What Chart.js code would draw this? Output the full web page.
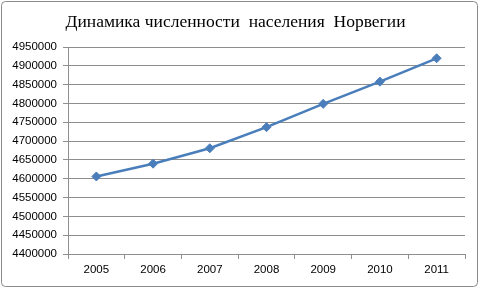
<!DOCTYPE html>
<html>
<head>
<meta charset="utf-8">
<script src="https://cdn.jsdelivr.net/npm/chart.js@4/dist/chart.umd.min.js"></script>
<style>
  html, body { margin: 0; padding: 0; background: #fff; }
  #wrap { width: 480px; height: 288px; }
</style>
</head>
<body>
<div id="wrap"><canvas id="chart" width="480" height="288"></canvas></div>
<script>
"use strict";

// Population of Norway
const years = ["2005", "2006", "2007", "2008", "2009", "2010", "2011"];
const population = [4606000, 4640000, 4681000, 4737000, 4799000, 4858000, 4920000];
const titleText = "Динамика численности  населения  Норвегии";
const yMin = 4400000;
const yMax = 4950000;
const yStep = 50000;

const GRID = "#8e8e8e";
const LINE = "#4a7ebb";

// outer frame, like the spreadsheet chart border
const framePlugin = {
  id: "frame",
  beforeDraw(chart) {
    const c = chart.ctx;
    c.save();
    c.fillStyle = "#fff";
    c.fillRect(0, 0, chart.width, chart.height);
    c.strokeStyle = "#8a8a8a";
    c.lineWidth = 1;
    c.beginPath();
    c.roundRect(1.5, 1.5, chart.width - 4, chart.height - 3, 4);
    c.stroke();
    c.restore();
  },
};

new Chart(document.getElementById("chart"), {
  type: "line",
  data: {
    labels: years,
    datasets: [{
      data: population,
      borderColor: LINE,
      backgroundColor: LINE,
      borderWidth: 2.5,
      tension: 0,
      pointStyle: "rectRot",
      pointRadius: 4.5,
      pointBorderWidth: 1,
    }],
  },
  options: {
    responsive: false,
    animation: false,
    layout: { padding: { left: 6, right: 15, top: 0, bottom: 0 } },
    plugins: {
      legend: { display: false },
      tooltip: { enabled: false },
      title: {
        display: true,
        text: titleText,
        color: "#000",
        font: { family: "'Liberation Serif', 'Times New Roman', serif", size: 17.5, weight: "normal" },
        padding: { top: 12, bottom: 14 },
      },
    },
    scales: {
      x: {
        offset: true,
        grid: { display: true, offset: true, drawOnChartArea: false, drawTicks: true, tickLength: 5, color: GRID },
        border: { display: true, color: GRID },
        ticks: {
          color: "#000",
          padding: 4,
          maxRotation: 0,
          font: { family: "'Liberation Sans', Arial, sans-serif", size: 11.5 },
        },
        afterFit(scale) { scale.height = 34; },
      },
      y: {
        min: yMin,
        max: yMax,
        grid: { color: GRID, tickLength: 5 },
        border: { display: true, color: GRID },
        ticks: {
          stepSize: yStep,
          color: "#000",
          padding: 6,
          callback: (v) => String(v),
          font: { family: "'Liberation Sans', Arial, sans-serif", size: 11.5 },
        },
        afterFit(scale) { scale.width = 62; },
      },
    },
  },
  plugins: [framePlugin],
});
</script>
</body>
</html>
